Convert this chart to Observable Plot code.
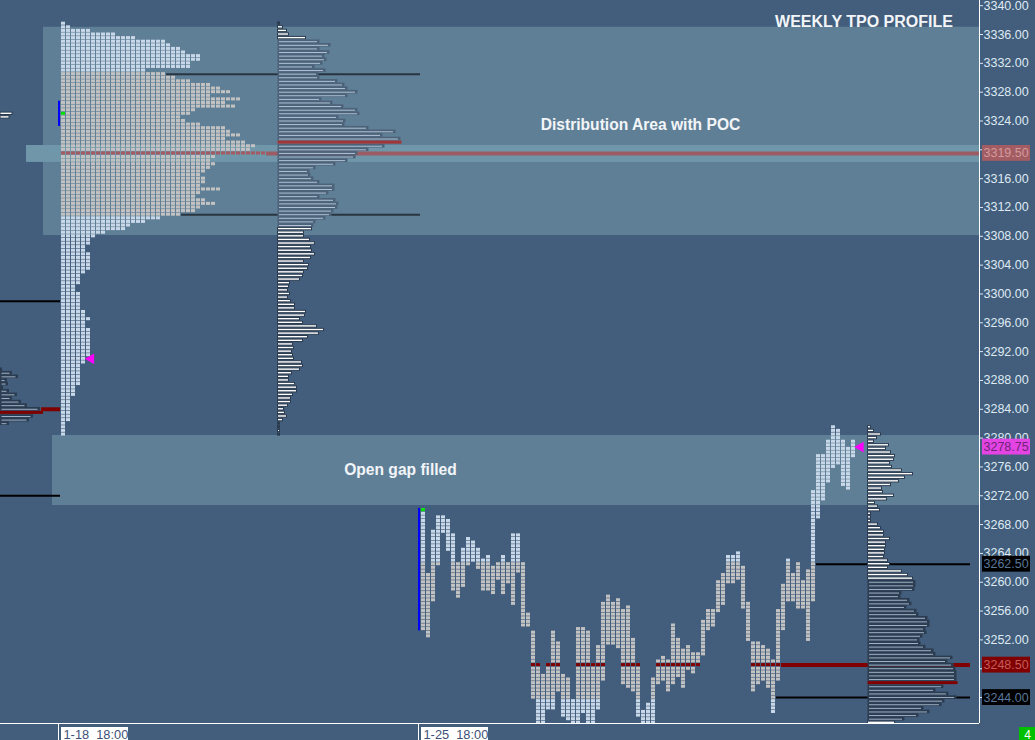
<!DOCTYPE html>
<html>
<head>
<meta charset="utf-8">
<script src="https://cdn.jsdelivr.net/npm/d3@7"></script>
<script src="https://cdn.jsdelivr.net/npm/@observablehq/plot@0.6"></script>
<style>
  html, body { margin: 0; padding: 0; background: #425e7c; overflow: hidden; }
  svg { display: block; }
</style>
</head>
<body>
<div id="chart"></div>
<script>
// ---------------- DATA ----------------
// Week of 1-18: TPO counts per 0.5 price row, from the top row downward
const leftTopPrice = 3337.5;
const leftTpoCounts = [1,2,6,11,15,21,22,24,25,28, 28,26,26,17,21,23,26,30,32,34, 30,36,33,35,27,26,24,25,28,33,
  34,36,33,37,39,38,41,31,30,31, 30,29,28,29,29,28,32,28,27,29, 31,28,27,24,20,17,14,13,9,7,
  6,6,5,5,6,6,6,6,6,5, 4,4,4,3,3,4,4,4,4,4, 5,5,6,5,5,6,6,6,6,6, 6,6,6,5,5,4,4,4,4,4,
  4,3,3,3,2,2,2,2,2,2, 2,1,1,1,1];
const leftVah = 3330.5, leftVal = 3311, leftPoc = 3319.5;
const leftOpen = 3325;
const leftIb = [3323.5, 3326.5];
const leftClose = 3291;
// Week of 1-18: volume per 0.5 row (same rows as the TPO counts)
const leftVolume = [2,5,9,11,28,
  42,53,42,52,47,49,45,37,48,41,42,60,67,70,80,70,44,55,66,80,82,61,68,67,91,118,105,123,124,107,91,80,78,70,58,38,32,33,36,42,57,57,51,42,58,61,60,56,54,48,38,36,
  34,26,26,32,37,33,34,37,33,26,31,30,26,25,22,12,11,10,12,10,13,17,17,28,27,22,25,39,46,41,30,25,15,16,14,15,16,24,25,22,14,11,11,17,19,19,15,13,13,10,6,7,9,5,2,2,2,2];
const leftVolVa = [3309.5, 3335];
const leftVolPoc = 3321;

// Week of 1-25: one TPO column per 30-minute period (high and low row)
const rightTop = [3270,3261,3267,3269,3269,3268.5,3266.5,3262.5,3264.5,3266, 3265.5,3264.5,3263,3263.5,3262,3262.5,3263.5,3262.5,3266.5,3266.5,
  3262.5,3255.5,3253,3248.5,3247,3248.5,3253,3251.5,3247,3246.5, 3243.5,3253.5,3253.5,3253,3248.5,3251,3257,3258,3257,3257.5,
  3256,3256.5,3252,3248.5,3242,3243,3246.5,3249,3249.5,3249, 3254,3252,3250.5,3251,3250,3250,3254.5,3256,3256,3260,
  3261,3263.5,3263.5,3264,3262,3257,3251.5,3251.5,3251,3250.5, 3249,3256,3259.5,3263,3261,3262.5,3260,3261.5,3272.5,3277.5,
  3277.5,3279.5,3281.5,3281,3279.5,3278.5,3279.5];
const rightBottom = [3253.5,3252.5,3257.5,3262.5,3267,3264.5,3259,3258,3259.5,3262.5, 3263,3262,3259,3259,3258.5,3260.5,3258.5,3260,3257,3261.5,
  3254,3254,3244,3240.5,3240.5,3242.5,3242.5,3245,3241.5,3241, 3240.5,3240.5,3242,3240.5,3240.5,3242.5,3246.5,3251.5,3251.5,3251,
  3246,3245.5,3245,3241.5,3240.5,3240.5,3240.5,3246,3246.5,3245, 3246,3247,3245.5,3248,3247.5,3248.5,3250,3253.5,3254,3256,
  3257,3260,3260,3260.5,3256.5,3252,3245,3246,3246.5,3245.5, 3242,3246.5,3253.5,3257.5,3257.5,3256.5,3256.5,3252,3257.5,3269,
  3271.5,3274,3276,3276.5,3273.5,3273,3277.5];
const rightVah = 3262.5, rightVal = 3244, rightPoc = 3248.5;
const rightOpen = 3270;
const rightIb = [3253.5, 3270];
const rightClose = 3278.75;
const rightVolTopPrice = 3281.5;
const rightVolume = [3,6,13,9,6,21,18,23,27,26,22,24,34,45,37,31,23,14,15,26,19,7,10,12,3,3,3,10,13,16,16,22,18,18,17,17,16,20,22,20,34,40,45,
  48,48,47,34,33,42,44,39,49,51,60,62,62,58,59,55,52,53,58,66,68,85,80,86,88,89,89,89,90,76,68,81,89,77,74,56,62,51,37,
  27];
const rightVolVa = [3241, 3260];
const rightVolPoc = 3246;

// Previous week (only its right edge is visible)
const prevVolPrices = [3289.5,3289,3288.5,3288,3287.5,3287,3286.5,3286,3285.5,3285,3284.5,3284,3283.5,3283,3282.5,3282];
const prevVolWidths = [2,12,18,7,8,3,9,17,12,21,27,40,43,33,29,9];
const prevVolPoc = 3283.5;
const prevTopPrices = [3325, 3324.5];
const prevTopWidths = [12, 9];
const prevLevels = [3299, 3272];
const prevPoc = 3284;

// Shaded areas
const bandLow = [3308.1, 3318.25, 3270.65];
const bandHigh = [3337, 3320.6, 3280.36];

// Axis
const yTicks = d3.range(3244, 3341, 4);
const weekLabels = ["1-18 \u00a018:00", "1-25 \u00a018:00"];
const markedPrices = [3319.5, 3278.75, 3262.5, 3248.5, 3244];
const hiddenTickLabels = [3320, 3248, 3244];   // fully covered by the marked-price boxes

// ---------------- LAYOUT ----------------
const xDomain = [-12.2, 183.6];        // 30-minute slots, 5px each
const yDomain = [3240.4, 3340.72];
const leftStart = 0, rightStart = 72;
const leftVpBase = 43.3, rightVpBase = 161.3;
const volPerSlot = 5;
const xEnd = xDomain[1];

const C = {
  out: "#c9d8e8", va: "#c2c2c2", pocL: "#a35a60", pocR: "#800000",
  darkL: "#4c6279", darkR: "#2c3c50", lineL: "#b2c4d6", lineR: "#9fb2c5",
  white: "#ffffff", edge: "#2b3b4f"
};

// Build cells
const leftCells = [];
leftTpoCounts.forEach((n, r) => {
  const p = leftTopPrice - 0.5 * r;
  for (let j = 0; j < n; j++) {
    leftCells.push({x: leftStart + j, p,
      fill: p === leftPoc ? C.pocL : (p >= leftVal && p <= leftVah ? C.va : C.out)});
  }
});
const rightCells = [];
rightTop.forEach((t, i) => {
  for (let p = t; p >= rightBottom[i] - 1e-9; p -= 0.5) {
    const q = Math.round(p * 2) / 2;
    rightCells.push({x: rightStart + i, p: q,
      fill: q === rightPoc ? C.pocR : (q >= rightVal && q <= rightVah ? C.va : C.out)});
  }
});

function vpRows(top, widths, va, poc, base) {
  return widths.map((w, i) => {
    const p = top - 0.5 * i;
    return {p, w, base, dark: p >= va[0] && p <= va[1], poc: p === poc};
  });
}
const leftVp = vpRows(leftTopPrice, leftVolume, leftVolVa, leftVolPoc, leftVpBase);
const rightVp = vpRows(rightVolTopPrice, rightVolume, rightVolVa, rightVolPoc, rightVpBase);
const prevVp = prevVolPrices.map((p, i) => ({p, w: prevVolWidths[i], base: xDomain[0], dark: true, poc: p === prevVolPoc}));
const prevTop = prevTopPrices.map((p, i) => ({p, w: prevTopWidths[i], base: xDomain[0], dark: false, poc: false}));

// level line starts
const leftRow = p => Math.round((leftTopPrice - p) * 2);
const lastCol = p => { let k = -1; rightTop.forEach((t, i) => { if (t >= p && rightBottom[i] <= p) k = i; }); return k; };

const leftLevels = [
  {p: leftVah, x1: leftStart + leftTpoCounts[leftRow(leftVah)], x2: rightStart - 0.2},
  {p: leftVal, x1: leftStart + leftTpoCounts[leftRow(leftVal)], x2: rightStart - 0.2}
];
const leftPocLine = [{p: leftPoc, x1: leftStart + leftTpoCounts[leftRow(leftPoc)], x2: xEnd}];
const rightLevels = [
  {p: rightVah, x1: rightStart + lastCol(rightVah) + 1, x2: 181.8},
  {p: rightVal, x1: rightStart + lastCol(rightVal) + 1, x2: 181.8}
];
const rightPocLine = [{p: rightPoc, x1: rightStart + lastCol(rightPoc) + 1, x2: 181.8}];

const vpX2 = d => d.base + d.w / volPerSlot;

function vpMarks(rows, dark, line, red) {
  return [
    Plot.rect(rows.filter(d => !d.dark), {x1: "base", x2: vpX2, y1: d => d.p - 0.25, y2: d => d.p + 0.25,
      insetTop: 0.6, insetBottom: 0.6, fill: C.white, stroke: C.edge, strokeWidth: 1}),
    Plot.rect(rows.filter(d => d.dark && !d.poc), {x1: "base", x2: vpX2, y1: d => d.p - 0.25, y2: d => d.p + 0.25,
      fill: dark}),
    Plot.ruleY(rows.filter(d => d.dark && !d.poc && d.w > 4), {y: "p", x1: d => d.base + 0.3, x2: d => d.base + (d.w - 2.5) / volPerSlot,
      stroke: line, strokeWidth: 1}),
    Plot.rect(rows.filter(d => d.poc), {x1: "base", x2: vpX2, y1: d => d.p - 0.25, y2: d => d.p + 0.25,
      insetTop: 0.3, insetBottom: 0.3, fill: red})
  ];
}

function cellMarks(cells) {
  return Plot.rect(cells, {x1: "x", x2: d => d.x + 1, y1: d => d.p - 0.25, y2: d => d.p + 0.25,
    insetRight: 1, insetTop: 0.3, insetBottom: 0.3, fill: "fill", clip: true});
}

const bands = [
  {lo: bandLow[0], hi: bandHigh[0], x1: -3.6, fill: "#5f7f97"},
  {lo: bandLow[2], hi: bandHigh[2], x1: -1.8, fill: "#5f7f97"},
  {lo: bandLow[1], hi: bandHigh[1], x1: -7, fill: "#7096aa"}
];

const boxStyle = {
  3319.5: {bg: "#a35c62", fg: "#d29a9e"},
  3278.75: {bg: "#e444e4", fg: "#6e2476"},
  3262.5: {bg: "#000000", fg: "#58779a"},
  3248.5: {bg: "#800000", fg: "#c45c5c"},
  3244: {bg: "#000000", fg: "#58779a"}
};
const boxes = markedPrices.map(p => ({p, label: p.toFixed(2), ...boxStyle[p]}));

const weekTicks = [leftStart - 0.6, rightStart - 0.6];
const weekLab = weekLabels.map((t, i) => ({t, x: [leftStart, rightStart][i]}));
const yLow = 3238.04, yLabTop = 3239.845, yBase = 3238.3;

const chart = Plot.plot({
  width: 1035, height: 740,
  marginTop: 0, marginBottom: 17, marginLeft: 0, marginRight: 56,
  x: {domain: xDomain, axis: null},
  y: {domain: yDomain, axis: null},
  style: {background: "#425e7c", color: "#dfe9f3", fontFamily: "Liberation Sans, Arial, sans-serif", fontSize: "12.5px"},
  marks: [
    Plot.rect(bands, {x1: "x1", x2: xEnd, y1: "lo", y2: "hi", fill: "fill"}),

    // previous week fragments
    ...vpMarks(prevVp, C.darkR, C.lineR, C.pocR),
    ...vpMarks(prevTop, C.darkR, C.lineR, C.pocR),
    Plot.ruleY(prevLevels, {x1: xDomain[0], x2: leftStart - 0.2, stroke: "#000", strokeWidth: 2}),
    Plot.ruleY([prevPoc], {x1: -4, x2: leftStart - 0.2, stroke: C.pocR, strokeWidth: 4}),

    // week 1-18
    Plot.ruleY(leftLevels, {y: "p", x1: "x1", x2: "x2", stroke: "#283440", strokeWidth: 2}),
    Plot.ruleY(leftPocLine, {y: "p", x1: "x1", x2: "x2", stroke: "#9c5c64", strokeWidth: 4}),
    cellMarks(leftCells),
    Plot.rect([leftIb], {x1: leftStart - 0.6, x2: leftStart - 0.2, y1: d => d[0] - 0.25, y2: d => d[1] + 0.25, fill: "#0000ff"}),
    Plot.rect([leftOpen], {x1: leftStart, x2: leftStart + 1, y1: d => d - 0.25, y2: d => d + 0.25, insetRight: 1, insetTop: 0.3, insetBottom: 0.3, fill: "#00e000"}),
    ...vpMarks(leftVp, C.darkL, C.lineL, "#a23636"),

    // week 1-25
    Plot.ruleY(rightLevels, {y: "p", x1: "x1", x2: "x2", stroke: "#000", strokeWidth: 2}),
    Plot.ruleY(rightPocLine, {y: "p", x1: "x1", x2: "x2", stroke: C.pocR, strokeWidth: 4}),
    cellMarks(rightCells),
    Plot.rect([rightIb], {x1: rightStart - 0.6, x2: rightStart - 0.2, y1: d => d[0] - 0.25, y2: d => d[1] + 0.25, fill: "#0000ff"}),
    Plot.rect([rightOpen], {x1: rightStart, x2: rightStart + 1, y1: d => d - 0.25, y2: d => d + 0.25, insetRight: 1, insetTop: 0.3, insetBottom: 0.3, fill: "#00e000"}),
    ...vpMarks(rightVp, C.darkR, C.lineR, C.pocR),

    // closing price markers
    Plot.dot([{x: leftStart + leftTpoCounts[leftRow(leftClose)] + 0.9, p: leftClose},
              {x: rightStart + rightTop.length + 0.8, p: rightClose}],
      {x: "x", y: "p", symbol: "triangle", r: 4, rotate: -90, fill: "#ff00ff", stroke: "none"}),

    // annotations
    Plot.text(["WEEKLY TPO PROFILE"], {x: 160.5, y: 3337.8, fontSize: 16, fontWeight: "bold", fill: "#f2f5f8"}),
    Plot.text(["Distribution Area with POC"], {x: 115.8, y: 3323.5, fontSize: 15.6, fontWeight: "bold", fill: "#f2f5f8"}),
    Plot.text(["Open gap filled"], {x: 67.8, y: 3275.6, fontSize: 15.6, fontWeight: "bold", fill: "#f2f5f8"}),

    // frame and axes
    Plot.ruleX([xEnd], {stroke: "#ffffff"}),
    Plot.ruleY([yDomain[0]], {stroke: "#ffffff"}),
    Plot.ruleX(weekTicks, {y1: yDomain[0], y2: yLow, stroke: "#ffffff"}),
    Plot.axisY(yTicks, {anchor: "right", tickSize: 3, tickPadding: 1,
      tickFormat: d => hiddenTickLabels.includes(d) ? "" : d.toFixed(2)}),
    Plot.rect(boxes, {x1: 184.2, x2: 193.8, y1: d => d.p - 1.1, y2: d => d.p + 1.1, fill: "bg"}),
    Plot.text(boxes, {x: 184.4, y: "p", text: "label", textAnchor: "start", fill: "fg", fontSize: 12.5}),
    Plot.rect(weekLab, {x1: "x", x2: d => d.x + 13.4, y1: yLow, y2: yLabTop, fill: "#ffffff"}),
    Plot.text(weekLab, {x: d => d.x + 0.4, y: yBase, text: "t", textAnchor: "start", lineAnchor: "bottom", fill: "#3d4f76", fontSize: 12.8}),
    Plot.rect([4], {x1: 191.6, x2: 194.8, y1: yLow, y2: yLabTop, fill: "#00c000"}),
    Plot.text([4], {x: 193.2, y: yBase, text: d => String(d), lineAnchor: "bottom", fill: "#ffffff", fontSize: 12})
  ]
});
document.getElementById("chart").appendChild(chart);
</script>
</body>
</html>
